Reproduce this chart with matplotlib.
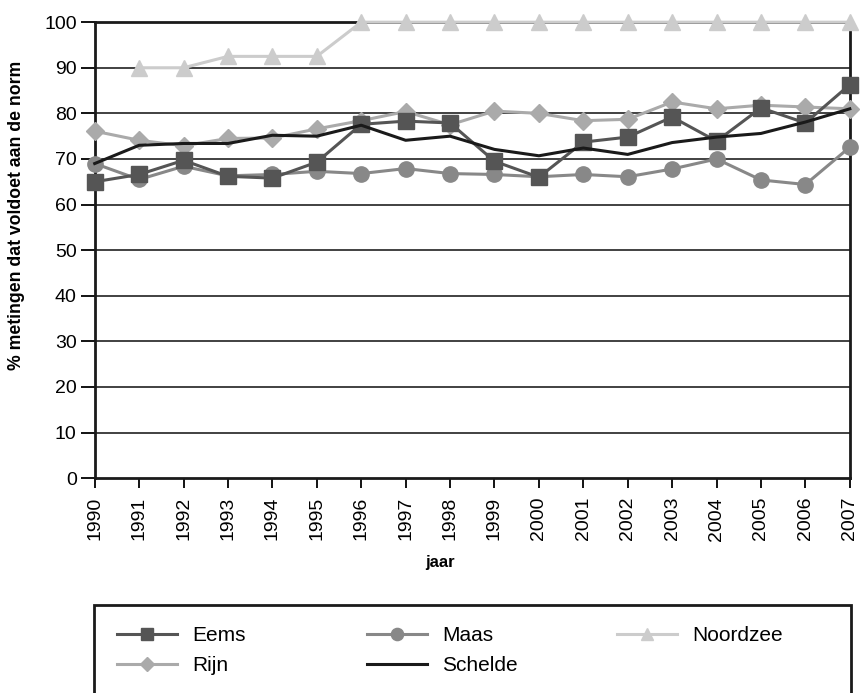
import matplotlib.pyplot as plt
from matplotlib.patches import Rectangle

plt.rcParams['font.family'] = ['Liberation Sans', 'DejaVu Sans']

years = list(range(1990, 2008))
eems = [65, 66.6, 69.7, 66.2, 65.8, 69.3, 77.6, 78.3, 77.9, 69.5, 66, 73.7, 74.8, 79.2, 73.9, 81.2, 77.9, 86.3]
maas = [69, 65.5, 68.4, 66.3, 66.6, 67.3, 66.8, 67.9, 66.8, 66.6, 66.1, 66.6, 66.1, 67.8, 70, 65.4, 64.4, 72.6]
noordzee_years = list(range(1991, 2008))
noordzee = [90, 90, 92.5, 92.5, 92.5, 100, 100, 100, 100, 100, 100, 100, 100, 100, 100, 100, 100]
rijn = [76.1, 74.1, 72.9, 74.5, 74.6, 76.6, 78.4, 80.4, 77.5, 80.5, 80, 78.4, 78.7, 82.5, 81, 81.8, 81.4, 81]
schelde = [69, 73, 73.4, 73.4, 75.2, 75, 77.4, 74.1, 75, 72.1, 70.7, 72.4, 71, 73.6, 74.8, 75.6, 78.1, 81]

fig = plt.figure(figsize=(8.61, 6.93), dpi=100)
ax = fig.add_axes([0.110, 0.310, 0.877, 0.658])

# grid lines
for g in range(10, 100, 10):
    ax.axhline(g, color='#333333', lw=1.3, zorder=1)

l_eems, = ax.plot(years, eems, color='#555555', lw=2.2, marker='s', ms=11, label='Eems', zorder=4, clip_on=False)
l_maas, = ax.plot(years, maas, color='#888888', lw=2.2, marker='o', ms=11, label='Maas', zorder=3, clip_on=False)
l_noord, = ax.plot(noordzee_years, noordzee, color='#cccccc', lw=2.2, marker='^', ms=11, label='Noordzee', zorder=5, clip_on=False)
l_rijn, = ax.plot(years, rijn, color='#aaaaaa', lw=2.2, marker='D', ms=9, label='Rijn', zorder=3, clip_on=False)
l_sch, = ax.plot(years, schelde, color='#1a1a1a', lw=2.2, label='Schelde', zorder=4, clip_on=False)

ax.set_xlim(1990, 2007)
ax.set_ylim(0, 100)
ax.set_xticks(years)
ax.set_xticklabels([str(y) for y in years], rotation=90, fontsize=14)
ax.set_yticks(range(0, 101, 10))
ax.tick_params(axis='y', labelsize=14, length=10, width=1.3, direction='out', pad=3)
ax.tick_params(axis='x', length=7, width=1.3, direction='out', pad=6.5)
for s in ax.spines.values():
    s.set_linewidth(2)
    s.set_color('#1a1a1a')
    s.set_zorder(2)

ax.set_xlabel('jaar', fontsize=12, fontweight='bold', va='top')
ax.xaxis.set_label_coords(0.457, -0.169)
ax.set_ylabel('% metingen dat voldoet aan de norm', fontsize=12.7, fontweight='bold')
ax.yaxis.set_label_coords(-0.0927, 0.577)

# legend, box runs past the bottom edge of the picture
fig.patches.append(Rectangle((94 / 861, -0.05), (851 - 94) / 861, 0.05 + 1 - 605 / 693,
                             transform=fig.transFigure, fill=False, edgecolor='#1a1a1a', lw=2))
columns = [[l_eems, l_rijn], [l_maas, l_sch], [l_noord]]
col_x = [117, 367, 617]
for hs, x in zip(columns, col_x):
    fig.legend(hs, [h.get_label() for h in hs], loc='upper left',
               bbox_to_anchor=(x / 861, 1 - 626 / 693), frameon=False, fontsize=15,
               handlelength=2.9, handletextpad=0.72, labelspacing=0.54,
               borderpad=0, borderaxespad=0, markerscale=0.8)

fig.savefig('out.png', dpi=100)
